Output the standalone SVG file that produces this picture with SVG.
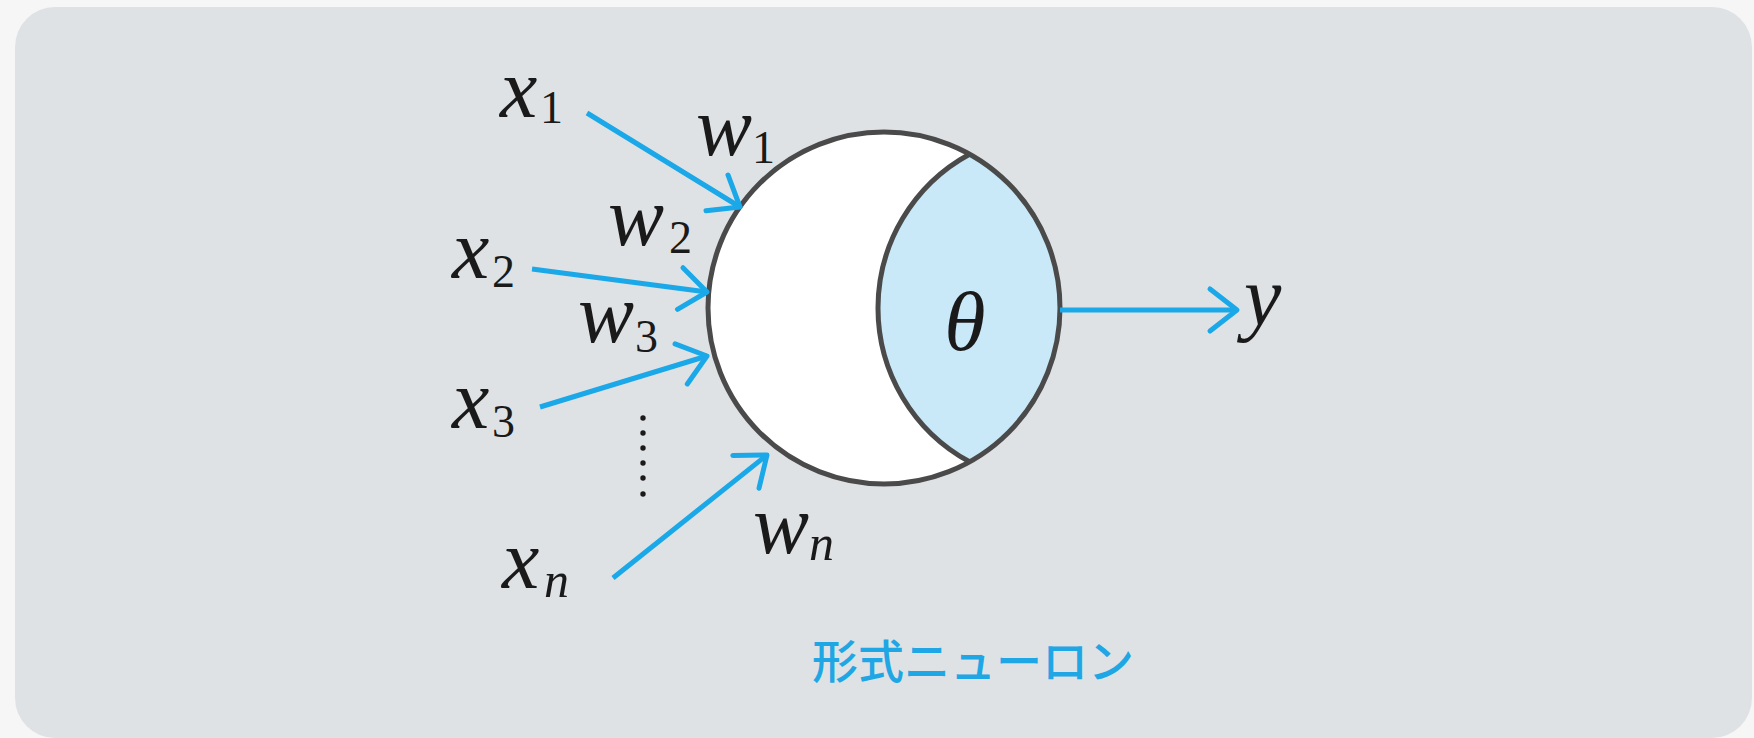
<svg xmlns="http://www.w3.org/2000/svg" width="1754" height="738" viewBox="0 0 1754 738">
  <defs>
    <style>
      .m { font-family: "Liberation Serif", "Times New Roman", serif; font-style: italic; font-size: 84px; fill: #1a1a1a; }
      .s { font-family: "Liberation Serif", "Times New Roman", serif; font-size: 46px; fill: #1a1a1a; }
      .si { font-family: "Liberation Serif", "Times New Roman", serif; font-style: italic; font-size: 50px; fill: #1a1a1a; }
      .arrow { stroke: #1aa8e8; stroke-width: 5; fill: none; marker-end: url(#head); }
      .cap { font-family: "Noto Sans CJK JP", sans-serif; font-size: 46px; fill: #1ea7e4; font-weight: 500; }
    </style>
    <marker id="head" markerUnits="userSpaceOnUse" markerWidth="44" markerHeight="54" viewBox="-32 -27 36 54" refX="0" refY="0" orient="auto">
      <path d="M -27 -21 L 0 0 L -27 21" fill="none" stroke="#1aa8e8" stroke-width="5" stroke-linecap="round" stroke-linejoin="round"/>
    </marker>
  </defs>
  <rect x="0" y="0" width="1754" height="738" fill="#f6f6f6"/>
  <rect x="15" y="7" width="1737" height="731" rx="40" ry="40" fill="#dfe2e5"/>

  <g id="neuron">
    <circle cx="884" cy="308" r="176" fill="#ffffff"/>
    <path d="M 969.5 154.2 A 176 176 0 0 1 969.5 461.8 A 175 175 0 0 1 969.5 154.2 Z" fill="#c9e8f8"/>
    <path d="M 969.5 154.2 A 175 175 0 0 0 969.5 461.8" fill="none" stroke="#4a4a4a" stroke-width="5"/>
    <circle cx="884" cy="308" r="176" fill="none" stroke="#4a4a4a" stroke-width="5"/>
    <text class="m" x="965" y="350" text-anchor="middle">θ</text>
  </g>

  <g id="connectors">
    <line class="arrow" x1="587" y1="113" x2="740" y2="207"/>
    <line class="arrow" x1="532" y1="269" x2="707" y2="292"/>
    <line class="arrow" x1="540" y1="407" x2="707" y2="356"/>
    <line class="arrow" x1="613" y1="578" x2="767" y2="455"/>
    <line class="arrow" x1="1060" y1="310" x2="1237" y2="310"/>
  </g>

  <g id="dots" fill="#1a1a1a">
    <circle cx="643" cy="418" r="2.7"/>
    <circle cx="643" cy="433" r="2.7"/>
    <circle cx="643" cy="448" r="2.7"/>
    <circle cx="643" cy="463" r="2.7"/>
    <circle cx="643" cy="478" r="2.7"/>
    <circle cx="643" cy="494" r="2.7"/>
  </g>

  <g id="input-x1"><text class="m" x="500" y="117">x</text><text class="s" x="540" y="123">1</text></g>
  <g id="input-x2"><text class="m" x="452" y="278">x</text><text class="s" x="492" y="287">2</text></g>
  <g id="input-x3"><text class="m" x="452" y="428">x</text><text class="s" x="492" y="437">3</text></g>
  <g id="input-xn"><text class="m" x="502" y="588">x</text><text class="si" x="544" y="597">n</text></g>

  <g id="weight-w1"><text class="m" x="696" y="155">w</text><text class="s" x="752" y="163">1</text></g>
  <g id="weight-w2"><text class="m" x="608" y="245">w</text><text class="s" x="669" y="253">2</text></g>
  <g id="weight-w3"><text class="m" x="578" y="342">w</text><text class="s" x="635" y="352">3</text></g>
  <g id="weight-wn"><text class="m" x="753" y="553">w</text><text class="si" x="809" y="560">n</text></g>

  <g id="output-y"><text class="m" x="1244" y="325">y</text></g>

  <text class="cap" x="812" y="678">形式ニューロン</text>
</svg>
